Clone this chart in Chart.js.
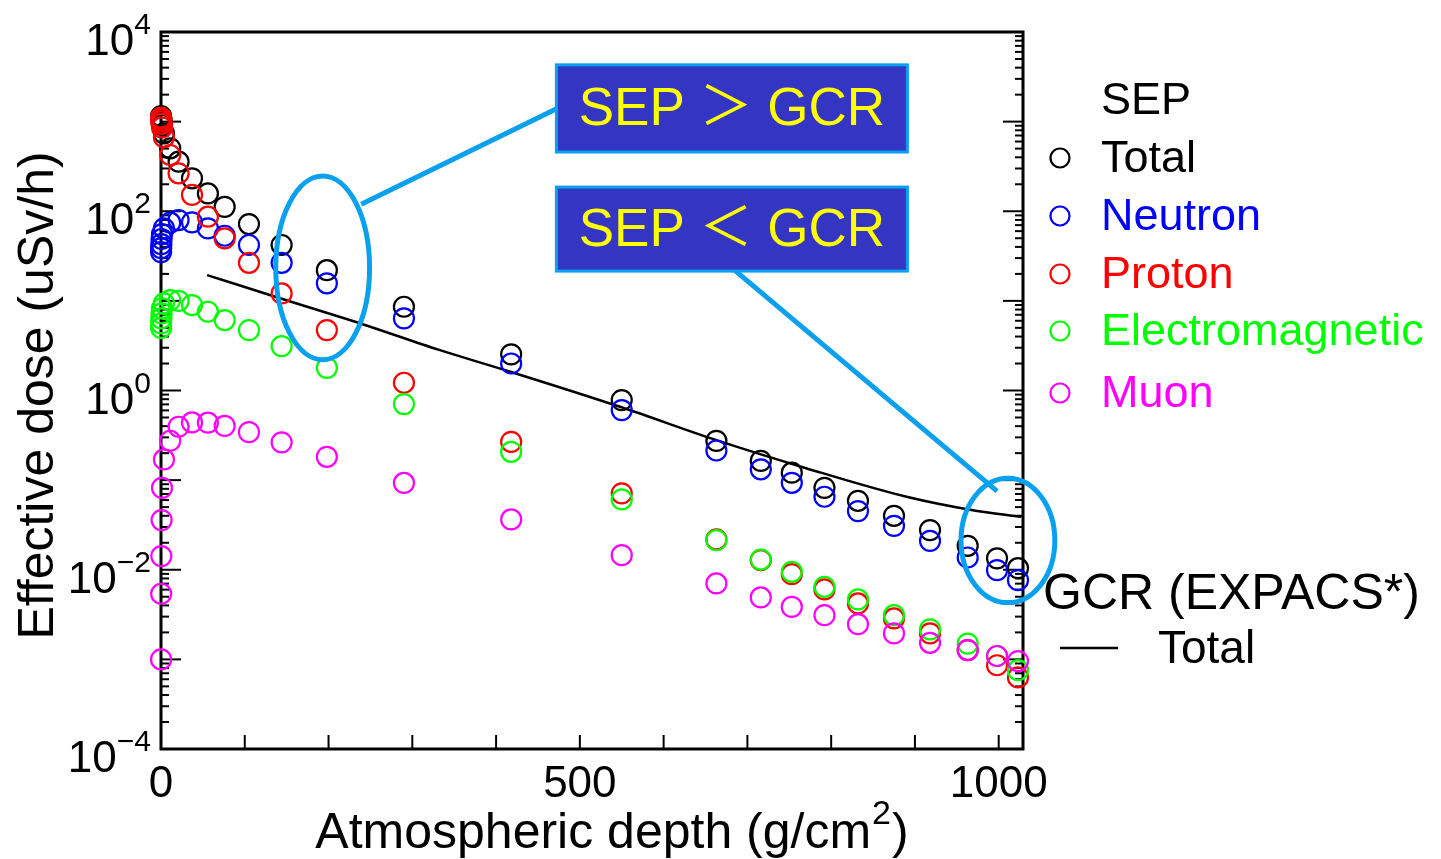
<!DOCTYPE html>
<html>
<head>
<meta charset="utf-8">
<script src="https://cdn.jsdelivr.net/npm/chart.js@4.4.0/dist/chart.umd.min.js"></script>
<style>
  html, body { margin: 0; padding: 0; background: #fff; }
  #wrap { width: 1441px; height: 859px; }
</style>
</head>
<body>
<div id="wrap"><canvas id="dose-chart"></canvas></div>
<script>
// atmospheric depth (g/cm2) of the SEP calculation points
const depths = [0.1, 0.2, 0.4, 0.7, 1.2, 3.5, 11, 21, 37, 56, 76, 105, 144, 198, 290,
                418, 550, 663, 716, 753, 792, 832, 875, 918, 963, 998, 1023];

// SEP effective dose rate (uSv/h) by component
const sepTotal = [1150, 1110, 1060, 1000, 920, 740, 504, 357, 233, 158, 112, 72, 42, 22, 8.6,
                  2.53, 0.781, 0.274, 0.164, 0.121, 0.082, 0.0588, 0.040, 0.0277, 0.0185, 0.0134, 0.0104];
const sepNeutron = [35, 38.8, 43, 49, 55.7, 64.4, 74.5, 79.8, 75.2, 64.4, 53.3, 42, 26.6, 15.7, 6.38,
                    2.0, 0.604, 0.214, 0.132, 0.0933, 0.0652, 0.0451, 0.0309, 0.021, 0.0137, 0.0099, 0.00766];
const sepProton = [1110, 1070, 1010, 945, 860, 670, 424, 265, 152, 86.9, 49.9, 26.6, 12.1, 4.72, 1.22,
                   0.267, 0.0711, 0.0218, 0.0128, 0.00893, 0.00603, 0.00421, 0.00286, 0.00195, 0.00127, 0.00086, 0.000629];
const sepEm = [5.0, 5.6, 6.38, 7.25, 8.25, 9.38, 10.2, 10.0, 8.98, 7.56, 6.11, 4.72, 3.13, 1.79, 0.705,
               0.207, 0.0609, 0.0214, 0.013, 0.00948, 0.00645, 0.00466, 0.00311, 0.00216, 0.0015, 0.00109, 0.000757];
const sepMuon = [0.001, 0.0054, 0.0142, 0.0358, 0.082, 0.170, 0.275, 0.394, 0.44, 0.437, 0.403, 0.343, 0.264, 0.182, 0.093,
                 0.0364, 0.01455, 0.00703, 0.00491, 0.00385, 0.00311, 0.00247, 0.00195, 0.00153, 0.00127, 0.00109, 0.000955];

// GCR total from EXPACS
const gcrDepths = [55, 142, 238, 333, 417, 548, 663, 771, 890, 969, 1027];
const gcrTotal = [19.4, 10.7, 5.6, 2.82, 1.62, 0.658, 0.279, 0.135, 0.0652, 0.0462, 0.0389];

const xTickValues = [0, 500, 1000];
const yTickExponents = [-4, -2, 0, 2, 4];

const seriesNames = ["Total", "Neutron", "Proton", "Electromagnetic", "Muon"];
const seriesColors = ["#000000", "#0000ff", "#ff0000", "#00ff00", "#ff00ff"];

// callouts, given in axis units (depth, dose)
const callouts = {
    ellipses: [
        {xMin: 137, xMax: 249, yMin: 2.2, yMax: 247},
        {xMin: 955, xMax: 1067, yMin: 0.0043, yMax: 0.105},
    ],
    links: [
        {x1: 239, y1: 120, x2: 474, y2: 1419},
        {x1: 679, y1: 24.4, x2: 998, y2: 0.0753},
    ],
    boxes: [
        {xMin: 472, xMax: 891, yMin: 458, yMax: 4300, text: "SEP ＞ GCR"},
        {xMin: 472, xMax: 891, yMin: 21.5, yMax: 186, text: "SEP ＜ GCR"},
    ],
};

const FONT = '"Liberation Sans", Arial, sans-serif';
const calloutBlue = "#0aa0f0";

const toPoints = (xs, ys) => xs.map((x, i) => ({x: x, y: ys[i]}));

function sepDataset(values, i) {
    return {
        label: seriesNames[i],
        data: toPoints(depths, values),
        showLine: false,
        pointStyle: "circle",
        pointRadius: 10,
        pointHoverRadius: 10,
        pointBorderWidth: 2.2,
        borderColor: seriesColors[i],
        pointBackgroundColor: "rgba(0,0,0,0)",
        clip: false,
    };
}

function strokeLine(ctx, x1, y1, x2, y2) {
    ctx.beginPath();
    ctx.moveTo(x1, y1);
    ctx.lineTo(x2, y2);
    ctx.stroke();
}

// frame with inward ticks, drawn under the points
const axesFrame = {
    id: "axesFrame",
    beforeDatasetsDraw(chart) {
        const {ctx, chartArea: a, scales: {x, y}} = chart;
        ctx.save();
        ctx.strokeStyle = "#000";
        ctx.lineWidth = 3;
        ctx.strokeRect(a.left, a.top, a.right - a.left, a.bottom - a.top);
        ctx.lineWidth = 2;
        for (let v = 100; v <= 1000; v += 100) {
            const px = x.getPixelForValue(v);
            strokeLine(ctx, px, a.bottom, px, a.bottom - 14);
        }
        for (let e = -4; e < 4; e++) {
            for (let m = 1; m < 10; m++) {
                const py = y.getPixelForValue(m * Math.pow(10, e));
                const len = m === 1 ? 20 : 8;
                strokeLine(ctx, a.left, py, a.left + len, py);
                strokeLine(ctx, a.right, py, a.right - len, py);
            }
        }
        ctx.restore();
    },
};

// ellipses, connectors and the labelled boxes
const calloutLayer = {
    id: "calloutLayer",
    afterDatasetsDraw(chart) {
        const {ctx, scales: {x, y}} = chart;
        ctx.save();
        ctx.strokeStyle = calloutBlue;
        ctx.lineWidth = 5;
        callouts.links.forEach(l => {
            strokeLine(ctx, x.getPixelForValue(l.x1), y.getPixelForValue(l.y1),
                       x.getPixelForValue(l.x2), y.getPixelForValue(l.y2));
        });
        callouts.ellipses.forEach(e => {
            const l = x.getPixelForValue(e.xMin), r = x.getPixelForValue(e.xMax);
            const t = y.getPixelForValue(e.yMax), b = y.getPixelForValue(e.yMin);
            ctx.beginPath();
            ctx.ellipse((l + r) / 2, (t + b) / 2, (r - l) / 2, (b - t) / 2, 0, 0, Math.PI * 2);
            ctx.stroke();
        });
        callouts.boxes.forEach(bx => {
            const l = x.getPixelForValue(bx.xMin), r = x.getPixelForValue(bx.xMax);
            const t = y.getPixelForValue(bx.yMax), b = y.getPixelForValue(bx.yMin);
            ctx.fillStyle = "#3535c4";
            ctx.fillRect(l, t, r - l, b - t);
            ctx.lineWidth = 3;
            ctx.strokeRect(l, t, r - l, b - t);
            ctx.fillStyle = "#ffff00";
            ctx.font = '53px "Liberation Sans", "Noto Sans CJK JP", sans-serif';
            ctx.textAlign = "center";
            ctx.textBaseline = "middle";
            ctx.fillText(bx.text, (l + r) / 2, (t + b) / 2 + 2);
        });
        ctx.restore();
    },
};

// tick labels, axis titles and the legend
const labelsLayer = {
    id: "labelsLayer",
    afterDraw(chart) {
        const {ctx, chartArea: a, scales: {x, y}} = chart;
        ctx.save();
        ctx.fillStyle = "#000";
        ctx.textBaseline = "alphabetic";

        // x tick labels
        ctx.font = "44px " + FONT;
        ctx.textAlign = "center";
        xTickValues.forEach(v => ctx.fillText(String(v), x.getPixelForValue(v), a.bottom + 48));

        // y tick labels as powers of ten
        yTickExponents.forEach(e => {
            const py = y.getPixelForValue(Math.pow(10, e));
            const sup = e < 0 ? "\u2212" + Math.abs(e) : String(e);
            ctx.font = "30px " + FONT;
            const supW = ctx.measureText(sup).width;
            ctx.textAlign = "left";
            ctx.fillText(sup, a.left - 10 - supW, py + 2);
            ctx.font = "44px " + FONT;
            ctx.textAlign = "right";
            ctx.fillText("10", a.left - 10 - supW, py + 23);
        });

        // y title
        ctx.save();
        ctx.translate(53, (a.top + a.bottom) / 2 + 5);
        ctx.rotate(-Math.PI / 2);
        ctx.font = "50px " + FONT;
        ctx.textAlign = "center";
        ctx.fillText("Effective dose (uSv/h)", 0, 0);
        ctx.restore();

        // x title with superscript
        const head = "Atmospheric depth (g/cm", tail = ")";
        ctx.font = "50px " + FONT;
        const wHead = ctx.measureText(head).width, wTail = ctx.measureText(tail).width;
        ctx.font = "34px " + FONT;
        const wSup = ctx.measureText("2").width;
        let tx = 611 - (wHead + wSup + wTail) / 2;
        const base = 848;
        ctx.textAlign = "left";
        ctx.font = "50px " + FONT;
        ctx.fillText(head, tx, base);
        ctx.font = "34px " + FONT;
        ctx.fillText("2", tx + wHead + 1, base - 24);
        ctx.font = "50px " + FONT;
        ctx.fillText(tail, tx + wHead + wSup + 2, base);

        // legend
        const lx = 1060, tx2 = 1101;
        ctx.textBaseline = "middle";
        ctx.font = "45px " + FONT;
        ctx.fillText("SEP", tx2, 102);
        const rows = [160, 218, 276, 333, 395];
        seriesNames.forEach((name, i) => {
            ctx.strokeStyle = seriesColors[i];
            ctx.lineWidth = 2.2;
            ctx.beginPath();
            ctx.arc(lx, rows[i] - 2, 9.5, 0, Math.PI * 2);
            ctx.stroke();
            ctx.fillStyle = seriesColors[i];
            ctx.font = "45px " + FONT;
            ctx.fillText(name, tx2, rows[i]);
        });
        ctx.fillStyle = "#000";
        ctx.font = "50px " + FONT;
        ctx.fillText("GCR (EXPACS*)", 1043, 595);
        ctx.strokeStyle = "#000";
        ctx.lineWidth = 2.5;
        strokeLine(ctx, 1060, 648, 1118, 648);
        ctx.font = "46px " + FONT;
        ctx.fillText("Total", 1158, 650);
        ctx.restore();
    },
};

const datasets = [
    sepDataset(sepMuon, 4),
    sepDataset(sepEm, 3),
    sepDataset(sepProton, 2),
    sepDataset(sepNeutron, 1),
    sepDataset(sepTotal, 0),
    {
        label: "GCR Total",
        data: toPoints(gcrDepths, gcrTotal),
        showLine: true,
        borderColor: "#000",
        borderWidth: 2.5,
        cubicInterpolationMode: "monotone",
        pointRadius: 0,
        pointHoverRadius: 0,
        fill: false,
    },
];

new Chart(document.getElementById("dose-chart").getContext("2d"), {
    type: "scatter",
    data: {datasets: datasets},
    options: {
        responsive: true,
        maintainAspectRatio: false,
        animation: false,
        events: [],
        layout: {padding: {left: 161, right: 418, top: 32, bottom: 110}},
        scales: {
            x: {type: "linear", min: 0, max: 1029, display: false},
            y: {type: "logarithmic", min: 1e-4, max: 1e4, display: false},
        },
        plugins: {
            legend: {display: false},
            tooltip: {enabled: false},
        },
    },
    plugins: [axesFrame, calloutLayer, labelsLayer],
});
</script>
</body>
</html>
